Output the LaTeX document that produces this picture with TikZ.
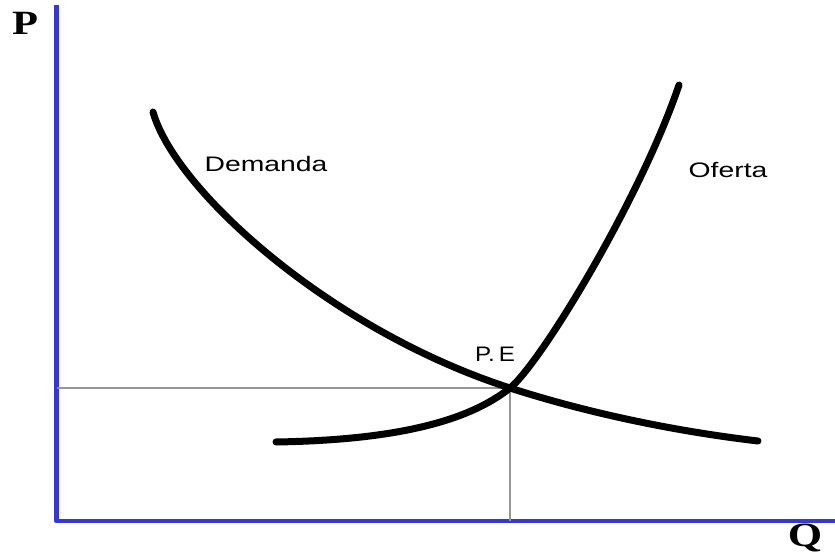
\documentclass[tikz,border=0pt]{standalone}
\usepackage{fontspec}
\usepackage{graphicx}
\setmainfont{Liberation Sans}
\newfontfamily\axisfont{Liberation Serif}
\definecolor{axisblue}{RGB}{55,55,210}
\definecolor{guidegray}{RGB}{150,150,150}
\newcommand{\wide}[1]{\scalebox{1.35}[1]{#1}}
\tikzset{
  curvelabel/.style={anchor=base, inner sep=0pt, font=\fontsize{21}{25}\selectfont},
  axislabel/.style={anchor=base, inner sep=0pt, font=\axisfont\bfseries\fontsize{34}{40}\selectfont},
}
\begin{document}
\begin{tikzpicture}[x=1pt, y=-1pt, line cap=round, line join=round]

    % 1. Khung hình
    \useasboundingbox (0,0) rectangle (835,556);

    % 2. Hai trục P và Q
    \coordinate (O) at (56.5,521);
    \draw[axisblue, line width=4.5pt, line cap=butt] (56.5,5) -- (O) -- (835,521);
    \node[axislabel] (P) at (25,35) {\scalebox{1.25}[1]{P}};
    \node[axislabel] (Q) at (805,546) {\scalebox{1.3}[1]{Q}};

    % 3. Điểm cân bằng và hai đường gióng
    \coordinate (PE) at (510,388);
    \draw[guidegray, line width=2pt, line cap=butt] (O |- PE) -- (PE) -- (PE |- O);

    % 4. Đường cầu
    \draw[line width=7pt] (153,112) .. controls (175,190) and (330,330) .. (PE)
      .. controls (600,417) and (690,433) .. (758,441);

    % 5. Đường cung
    \draw[line width=7pt] (276,442) .. controls (400,440) and (470,420) .. (PE)
      .. controls (540,364) and (640,200) .. (679,85);

    % 6. Nhãn
    \node[curvelabel] (demanda) at (266,172) {\wide{Demanda}};
    \node[curvelabel] (oferta) at (728,178) {\wide{Oferta}};
    \node[curvelabel] (pe) at (495,361) {\scalebox{1.15}[1]{P.\,E}};

\end{tikzpicture}
\end{document}
